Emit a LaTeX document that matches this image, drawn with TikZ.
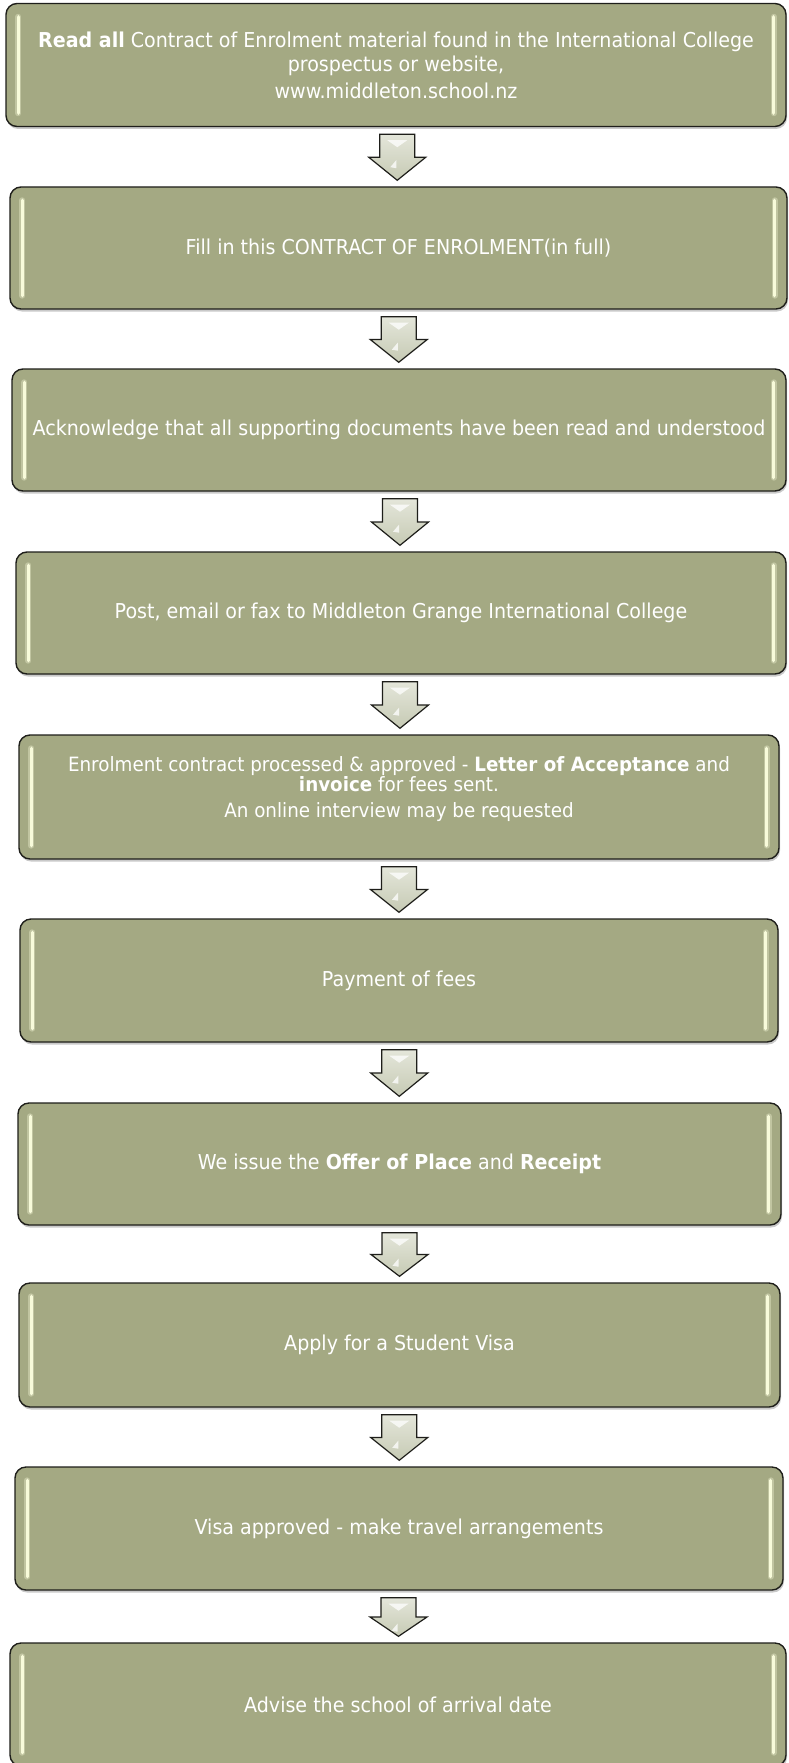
\documentclass[tikz,border=0pt]{standalone}
\usepackage{fontspec}
\setmainfont{DejaVu Sans}[FakeStretch=0.93]
\usetikzlibrary{calc,shadows}
\definecolor{boxfill}{HTML}{A4A983}
\definecolor{boxline}{HTML}{1E1E1A}
\definecolor{glint}{HTML}{F8FBDA}
\definecolor{arrtop}{HTML}{E4E6DA}
\definecolor{arrbot}{HTML}{C6CAB4}
\tikzset{
  stepbox/.style={draw=boxline, line width=1.4pt, fill=boxfill, rounded corners=11pt,
    text=white, align=center, inner sep=0pt,
    font=\fontsize{20.5}{24}\selectfont,
    drop shadow={shadow xshift=1pt, shadow yshift=-2.5pt, opacity=0.35, fill=black!60}},
  steptext/.style={text=white, align=center, inner sep=0pt},
  glintline/.style={draw=glint, line width=3.2pt, line cap=round},
  glintglow/.style={draw=glint, line width=6pt, line cap=round, opacity=0.35},
  flowarr/.style={draw=boxline, line width=1.2pt, top color=arrtop, bottom color=arrbot, line join=miter},
}
\newcommand{\glints}[1]{%
  \draw[glintglow] ($(#1.north west)+(13,14)$) -- ($(#1.south west)+(13,-14)$);
  \draw[glintglow] ($(#1.north east)+(-13,14)$) -- ($(#1.south east)+(-13,-14)$);
  \draw[glintline] ($(#1.north west)+(13,14)$) -- ($(#1.south west)+(13,-14)$);
  \draw[glintline] ($(#1.north east)+(-13,14)$) -- ($(#1.south east)+(-13,-14)$);
}
\newcommand{\flowarrow}[2]{%
  \path[flowarr] let \p1=(#1.south), \p2=(#2.north), \n1={0.5*\x1+0.5*\x2},
      \n2={\y1-7pt}, \n3={\y2+6pt}, \n4={0.5*\n2+0.5*\n3} in
    ({(\n1-17.5)*1pt},{\n2*1pt}) -- ({(\n1+17.5)*1pt},{\n2*1pt}) -- ({(\n1+17.5)*1pt},{\n4*1pt})
    -- ({(\n1+28.5)*1pt},{\n4*1pt}) -- ({\n1*1pt},{\n3*1pt}) -- ({(\n1-28.5)*1pt},{\n4*1pt})
    -- ({(\n1-17.5)*1pt},{\n4*1pt}) -- cycle;
  \path[fill=white, opacity=0.75] let \p1=(#1.south), \p2=(#2.north), \n1={0.5*\x1+0.5*\x2},
      \n2={\y1-7pt} in
    ({(\n1-10)*1pt},{(\n2-6)*1pt}) -- ({(\n1+10)*1pt},{(\n2-6)*1pt}) -- ({\n1*1pt},{(\n2-13)*1pt}) -- cycle;
  \path[fill=white, opacity=0.75] let \p1=(#1.south), \p2=(#2.north), \n1={0.5*\x1+0.5*\x2},
      \n2={\y1-7pt} in
    ({(\n1-1)*1pt},{(\n2-26)*1pt}) -- ({(\n1-1)*1pt},{(\n2-34)*1pt}) -- ({(\n1-7)*1pt},{(\n2-33)*1pt}) -- cycle;
}
\begin{document}
\begin{tikzpicture}[x=1pt,y=-1pt]
\useasboundingbox[fill=white] (0,0) rectangle (789,1763);
\node[stepbox, minimum width=780pt, minimum height=123pt] (b1) at (396,65)
  {\textbf{Read all} Contract of Enrolment material found in the International College\\
   prospectus or website,\\[3pt] www.middleton.school.nz};
\node[stepbox, minimum width=777pt, minimum height=122pt] (b2) at (398.5,248)
  {Fill in this CONTRACT OF ENROLMENT(in full)};
\node[stepbox, minimum width=774pt, minimum height=122pt] (b3) at (399,430)
  {Acknowledge that all supporting documents have been read and understood};
\node[stepbox, minimum width=770pt, minimum height=122pt] (b4) at (401,613)
  {Post, email or fax to Middleton Grange International College};
\node[stepbox, minimum width=760pt, minimum height=124pt] (b5) at (399,797) {};
\node[steptext, font=\fontsize{19.7}{19}\selectfont] (t5) at (399,789)
  {Enrolment contract processed \& approved - \textbf{Letter of Acceptance} and\\
   \textbf{invoice} for fees sent.\\[7pt] An online interview may be requested};
\node[stepbox, minimum width=758pt, minimum height=123pt] (b6) at (399,980.5)
  {Payment of fees};
\node[stepbox, minimum width=763pt, minimum height=122pt] (b7) at (399.5,1164)
  {We issue the \textbf{Offer of Place} and \textbf{Receipt}};
\node[stepbox, minimum width=761pt, minimum height=124pt] (b8) at (399.5,1345)
  {Apply for a Student Visa};
\node[stepbox, minimum width=768pt, minimum height=123pt] (b9) at (399,1528.5)
  {Visa approved - make travel arrangements};
\node[stepbox, minimum width=776pt, minimum height=123pt] (b10) at (398,1704.5)
  {Advise the school of arrival date};
\foreach \b in {b1,b2,b3,b4,b5,b6,b7,b8,b9,b10} {\glints{\b}}
\flowarrow{b1}{b2}
\flowarrow{b2}{b3}
\flowarrow{b3}{b4}
\flowarrow{b4}{b5}
\flowarrow{b5}{b6}
\flowarrow{b6}{b7}
\flowarrow{b7}{b8}
\flowarrow{b8}{b9}
\flowarrow{b9}{b10}
\end{tikzpicture}
\end{document}
